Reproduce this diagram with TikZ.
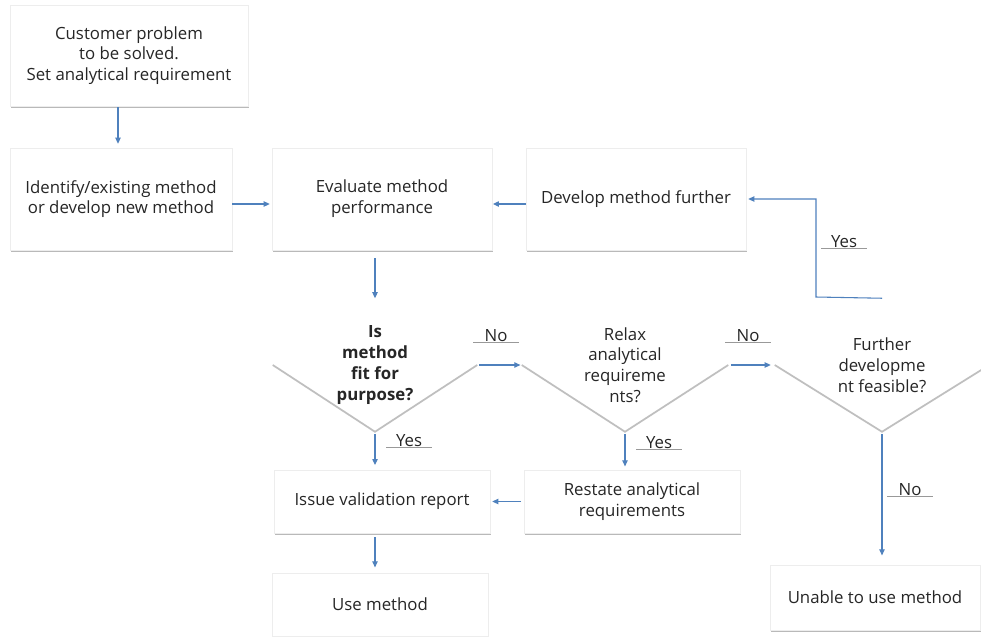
\documentclass[tikz,border=0pt]{standalone}
\usepackage{fontspec}
\setmainfont{Open Sans}
\usetikzlibrary{shapes.geometric,arrows.meta,shadows}
\definecolor{flowblue}{RGB}{79,129,189}
\definecolor{inkgray}{RGB}{38,38,38}
\begin{document}
\begin{tikzpicture}[x=0.75pt,y=-0.75pt,
  txt/.style={text=inkgray, font=\fontsize{12.6}{15.6}\selectfont},
  box/.style={txt, draw=black!7, fill=white, align=center, inner sep=0pt,
    drop shadow={shadow xshift=0.6pt, shadow yshift=-1.5pt, opacity=0.55}},
  decision/.style={txt, diamond, aspect=1.6, inner sep=0pt, align=center,
    minimum width=#1*0.75pt, minimum height=133*0.75pt},
  vee/.style={draw=black!25, line width=1.3pt},
  flow/.style={draw=flowblue, line width=0.8pt, -{Triangle[length=4.5pt,width=4pt]}},
  tag/.style={txt, inner sep=0.6pt, minimum width=46*0.75pt,
    path picture={\draw[black!40, line width=1.4pt]
      (path picture bounding box.south west) -- (path picture bounding box.south east);}}
]
\useasboundingbox (0,0) rectangle (981,636);
\fill[white] (0,0) rectangle (981,636);

% process boxes
\node[box, minimum width=238*0.75pt, minimum height=101*0.75pt] (cust) at (129,55.5)
  {Customer problem\\to be solved.\\Set analytical requirement};
\node[box, minimum width=222*0.75pt, minimum height=102*0.75pt] (ident) at (121,199)
  {Identify/existing method\\or develop new method};
\node[box, minimum width=220*0.75pt, minimum height=102*0.75pt] (eval) at (382,199)
  {Evaluate method\\performance};
\node[box, minimum width=220*0.75pt, minimum height=102*0.75pt] (dev) at (636,199)
  {Develop method further};
\node[box, minimum width=216*0.75pt, minimum height=63*0.75pt] (issue) at (382,501.5)
  {Issue validation report};
\node[box, minimum width=216*0.75pt, minimum height=63*0.75pt] (restate) at (632,501.5)
  {Restate analytical\\requirements};
\node[box, minimum width=216*0.75pt, minimum height=63*0.75pt] (use) at (380,604.5)
  {Use method};
\node[box, minimum width=210*0.75pt, minimum height=65*0.75pt] (unable) at (875,597.5)
  {Unable to use method};

% decisions: only the lower half of each diamond is drawn
\node[decision=204, font=\fontsize{12.6}{15.8}\selectfont\bfseries] (fit) at (375,365)
  {Is\\method\\fit for\\purpose?};
\node[decision=206] (relax) at (625,365)
  {Relax\\analytical\\requireme\\nts?};
\node[decision=214] (further) at (882,365)
  {Further\\developme\\nt feasible?};
\draw[vee] (fit.west) -- (fit.south) -- (fit.east);
\draw[vee] (relax.west) -- (relax.south) -- (relax.east);
\draw[vee] (further.west) -- (further.south) -- (further.east);

% connectors
\coordinate (custout) at (118,106);
\draw[flow, shorten <=1pt, shorten >=3pt] (custout) -- (custout |- ident.north);
\draw[flow, shorten >=1.5pt] ([yshift=-5*0.75pt]ident.east) -- ([yshift=-5*0.75pt]eval.west);
\draw[flow, shorten >=0.5pt] ([yshift=-5*0.75pt]dev.west) -- ([yshift=-5*0.75pt]eval.east);
\draw[flow, shorten <=6pt] (eval.south -| fit.north) -- (fit.north);
\draw[flow, shorten <=1.5pt, shorten >=1pt] (fit.east) -- (relax.west);
\draw[flow, shorten <=2pt, shorten >=3pt] (relax.east) -- (further.west);
\draw[flow, shorten <=1.5pt, shorten >=3.5pt] (fit.south) -- (fit.south |- issue.north);
\draw[flow, shorten <=1.5pt, shorten >=2.5pt] (relax.south) -- (relax.south |- restate.north);
\draw[flow, shorten <=2pt, shorten >=1.5pt] (restate) -- (issue);
\draw[flow, shorten <=3pt, shorten >=4pt] (issue.south -| fit.south) -- (fit.south |- use.north);
\draw[flow, shorten <=1.5pt, shorten >=7pt] (further.south) -- (further.south |- unable.north);
\coordinate (loop) at (816,297);
\draw[flow, shorten >=1.5pt] (further.north) -- (loop) |- (dev.east);

% branch labels
\node[tag] (noA) at (496,336) {No};
\node[tag] (noB) at (748,336) {No};
\node[tag] (yesA) at (409,441) {Yes};
\node[tag] (yesB) at (659,443) {Yes};
\node[tag] (yesC) at (844,242) {Yes};
\node[tag] (noC) at (910,490) {No};
\end{tikzpicture}
\end{document}
